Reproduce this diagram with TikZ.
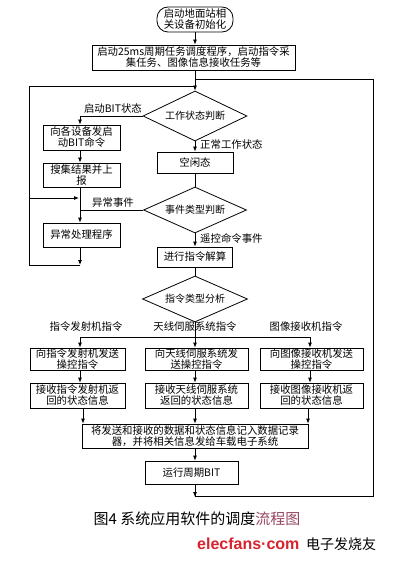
\documentclass[tikz,border=0pt]{standalone}
\usepackage{fontspec}
\setmainfont{Noto Sans CJK SC}
\newfontfamily\wmfont{Liberation Sans}
\usetikzlibrary{shapes.geometric,arrows.meta}
\definecolor{wmred}{RGB}{215,35,45}
\definecolor{tint}{RGB}{150,70,95}
\begin{document}
\begin{tikzpicture}[x=1pt,y=-1pt,
  every node/.style={font=\fontsize{10.4}{11}\selectfont, inner sep=0.5pt},
  box/.style={draw, line width=0.8pt, align=center},
  dia/.style={draw, diamond, aspect=2.3, line width=0.8pt, inner sep=0pt, font=\fontsize{10}{11}\selectfont},
  ln/.style={line width=0.8pt},
  arr/.style={line width=0.8pt, -{Latex[length=5pt,width=4pt]}},
  lbl/.style={inner sep=1pt}]
\useasboundingbox (0,0) rectangle (400,564);

% nodes
\node[box, rounded corners=11pt, minimum width=76pt, minimum height=25pt] (start) at (195,19.5) {启动地面站相\\关设备初始化};
\node[box, minimum width=203pt, minimum height=25pt] (init) at (193.5,57.5) {启动25ms周期任务调度程序，启动指令采\\集任务、图像信息接收任务等};
\node[dia, minimum width=104pt, minimum height=50pt] (d1) at (195,116) {工作状态判断};
\node[box, minimum width=77pt, minimum height=25pt] (bitcmd) at (81.5,137.5) {向各设备发启\\动BIT命令};
\node[box, minimum width=77pt, minimum height=24pt] (report) at (81.5,175) {搜集结果并上\\报};
\node[box, minimum width=76pt, minimum height=21pt] (idle) at (195,162.5) {空闲态};
\node[dia, minimum width=103pt, minimum height=46pt] (d2) at (195,210) {事件类型判断};
\node[box, minimum width=77pt, minimum height=24pt] (except) at (81.5,235) {异常处理程序};
\node[box, minimum width=75pt, minimum height=20pt] (decode) at (195,257) {进行指令解算};
\node[dia, minimum width=105pt, minimum height=46pt] (d3) at (195,299) {指令类型分析};

\node[box, minimum width=95pt, minimum height=22pt] (a1) at (77.5,359) {向指令发射机发送\\操控指令};
\node[box, minimum width=103pt, minimum height=22pt] (b1) at (196.5,359) {向天线伺服系统发\\送操控指令};
\node[box, minimum width=103pt, minimum height=22pt] (c1) at (311.5,359) {向图像接收机发送\\操控指令};
\node[box, minimum width=95pt, minimum height=25pt] (a2) at (77.5,395.5) {接收指令发射机返\\回的状态信息};
\node[box, minimum width=103pt, minimum height=25pt] (b2) at (196.5,395.5) {接收天线伺服系统\\返回的状态信息};
\node[box, minimum width=103pt, minimum height=25pt] (c2) at (311.5,395.5) {接收图像接收机返\\回的状态信息};
\node[box, minimum width=226pt, minimum height=24pt] (rec) at (195,436) {将发送和接收的数据和状态信息记入数据记录\\器，并将相关信息发给车载电子系统};
\node[box, minimum width=93pt, minimum height=23pt] (pbit) at (191.5,472.5) {运行周期BIT};

% labels
\node[lbl, anchor=south east] (l1) at (143,115) {启动BIT状态};
\node[lbl, anchor=west] (l2) at (199,145) {正常工作状态};
\node[lbl, anchor=south east] (l3) at (135,209) {异常事件};
\node[lbl, anchor=west] (l4) at (199,239) {遥控命令事件};
\node[lbl, anchor=south] (l5) at (86,333) {指令发射机指令};
\node[lbl, anchor=south] (l6) at (195,333) {天线伺服系统指令};
\node[lbl, anchor=south] (l7) at (306,333) {图像接收机指令};

% coordinates
\coordinate (top) at (195,79);
\coordinate (ltop) at (195,86);
\coordinate (bus) at (195,337);
\coordinate (busL) at (80,337);
\coordinate (busR) at (310,337);
\coordinate (bot) at (195,496);
\coordinate (bl) at (373,496);
\coordinate (tr) at (373,79);
\coordinate (lx1) at (29,86);
\coordinate (lx2) at (29,265);
\coordinate (lx3) at (80,265);
\coordinate (lm) at (29,198);
\coordinate (lmr) at (80,198);
\coordinate (ej) at (80,210);
\coordinate (bj) at (80,116);

% connectors
\draw[arr] (start.south) -- (start.south |- init.north);
\draw[arr] (d1.north |- init.south) -- (d1.north);
\draw[ln] (pbit.south -| bot) -- (bot) -- (bl) -- (tr) -- (top);
\draw[ln] (lx3) -- (lx2) -- (lx1) -- (ltop);
\draw[arr] (lm) -- ([xshift=-1pt]lmr);
\draw[ln] (d1.west) -- (bj);
\draw[arr] (bj) -- (bj |- bitcmd.north);
\draw[arr] (bitcmd.south -| bj) -- (report.north -| bj);
\draw[arr] (report.south -| bj) -- (except.north -| bj);
\draw[ln] (d2.west) -- (ej);
\draw[arr] (except.south -| bj) -- (lx3);
\draw[arr] (d1.south) -- (idle.north);
\draw[ln] (idle.south) -- (d2.north);
\draw[arr] (d2.south) -- (decode.north);
\draw[ln] (decode.south) -- (d3.north);
\draw[ln] (d3.south) -- (bus);
\draw[ln] (busL) -- (busR);
\draw[arr] (busL) -- (busL |- a1.north);
\draw[arr] (bus) -- (bus |- b1.north);
\draw[arr] (busR) -- (busR |- c1.north);
\draw[arr] (busL |- a1.south) -- (busL |- a2.north);
\draw[arr] (bus |- b1.south) -- (bus |- b2.north);
\draw[arr] (busR |- c1.south) -- (busR |- c2.north);
\draw[arr] ([xshift=3pt]busL |- a2.south) -- ([xshift=3pt]busL |- rec.north);
\draw[arr] (bus |- b2.south) -- (bus |- rec.north);
\draw[arr] ([xshift=-2pt]busR |- c2.south) -- ([xshift=-2pt]busR |- rec.north);
\draw[arr] (bus |- rec.south) -- (bus |- pbit.north);
\draw[arr] (bus |- pbit.south) -- ([yshift=-1pt]bot);

% caption and watermark
\node[font=\fontsize{15}{17}\selectfont, inner sep=0pt] (cap) at (197,519) {图4\ 系统应用软件的调度\textcolor{tint}{流程图}};
\node[font=\wmfont\bfseries\fontsize{16}{18}\selectfont, text=wmred, inner sep=0pt, anchor=west] (wm1) at (197,544) {elecfans·com};
\node[font=\fontsize{14}{16}\selectfont, inner sep=0pt, anchor=west] (wm2) at (306,544) {电子发烧友};
\end{tikzpicture}
\end{document}
